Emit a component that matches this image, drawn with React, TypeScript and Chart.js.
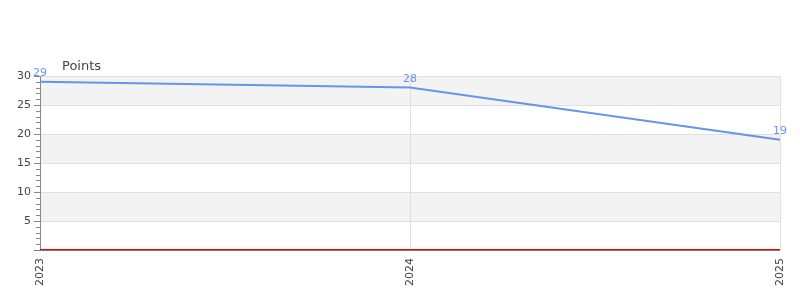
import React, { useEffect, useRef } from "react";
import { Chart, registerables } from "chart.js";

Chart.register(...registerables);

const categories = ["2023", "2024", "2025"];
const pointsValues = [29, 28, 19];
const zeroLine = [0, 0, 0];
const yMin = 0;
const yMax = 30;
const yMajorStep = 5;
const yMinorStep = 1;
const seriesTitle = "Points";

const FONT = "'DejaVu Sans', sans-serif";
const LINE_COLOR = "#6495ED";

const bandsPlugin = {
  id: "bands",
  beforeDraw(chart: any) {
    const { ctx, chartArea } = chart;
    const y = chart.scales.y;
    ctx.save();
    ctx.fillStyle = "#f3f3f3";
    for (let v = yMax; v > yMin; v -= yMajorStep * 2) {
      const top = y.getPixelForValue(v);
      const bot = y.getPixelForValue(v - yMajorStep);
      ctx.fillRect(chartArea.left, top, chartArea.right - chartArea.left, bot - top);
    }
    ctx.restore();
  },
};

const axisDecorPlugin = {
  id: "axisDecor",
  afterDatasetsDraw(chart: any) {
    const { ctx, chartArea } = chart;
    const y = chart.scales.y;
    ctx.save();
    ctx.strokeStyle = "#888";
    ctx.lineWidth = 1;
    for (let v = yMin + yMinorStep; v <= yMax; v += yMinorStep) {
      const py = Math.round(y.getPixelForValue(v)) + 0.5;
      const len = v % yMajorStep === 0 ? 6 : 4;
      ctx.beginPath();
      ctx.moveTo(chartArea.left - len, py);
      ctx.lineTo(chartArea.left, py);
      ctx.stroke();
    }
    const by = Math.round(chartArea.bottom) + 0.5;
    ctx.strokeStyle = "#777";
    ctx.beginPath();
    ctx.moveTo(chartArea.left - 6, by);
    ctx.lineTo(chartArea.right, by);
    ctx.stroke();
    ctx.restore();
  },
};

const labelsPlugin = {
  id: "valueLabels",
  afterDatasetsDraw(chart: any) {
    const { ctx, chartArea } = chart;
    const meta = chart.getDatasetMeta(0);
    ctx.save();
    ctx.font = `11px ${FONT}`;
    ctx.fillStyle = LINE_COLOR;
    ctx.textAlign = "center";
    ctx.textBaseline = "bottom";
    meta.data.forEach((pt: any, i: number) => {
      ctx.fillText(String(pointsValues[i]), pt.x, pt.y - 3);
    });
    ctx.font = `13px ${FONT}`;
    ctx.fillStyle = "#444";
    ctx.textAlign = "left";
    ctx.fillText(seriesTitle, chartArea.left + 22, chartArea.top - 3);
    ctx.restore();
  },
};

export default function App() {
  const ref = useRef<HTMLCanvasElement>(null);
  useEffect(() => {
    document.body.style.margin = "0";
    const chart = new Chart(ref.current as HTMLCanvasElement, {
      type: "line",
      data: {
        labels: categories,
        datasets: [
          {
            label: seriesTitle,
            data: pointsValues,
            borderColor: LINE_COLOR,
            borderWidth: 2,
            pointRadius: 0,
            tension: 0,
            fill: false,
          },
          {
            label: "zero",
            data: zeroLine,
            borderColor: "#ff0000",
            borderWidth: 2,
            pointRadius: 0,
            fill: false,
            clip: false,
          },
        ],
      },
      options: {
        responsive: false,
        animation: false,
        layout: { padding: { top: 76, right: 20, left: 0, bottom: 0 } },
        plugins: {
          legend: { display: false },
          title: { display: false },
          tooltip: { enabled: false },
        },
        scales: {
          x: {
            type: "category",
            offset: false,
            afterFit(scale: any) {
              scale.height = 50;
              scale.paddingLeft = 0;
              scale.paddingRight = 0;
            },
            grid: {
              display: true,
              drawTicks: false,
              color: (c: any) => (c.index === 0 ? "rgba(0,0,0,0)" : "#e0e0e0"),
            },
            border: { display: false },
            ticks: {
              minRotation: 90,
              maxRotation: 90,
              padding: 8,
              color: "#444",
              font: { family: FONT, size: 11 },
            },
          },
          y: {
            min: yMin,
            max: yMax,
            afterFit(scale: any) {
              scale.width = 40;
              scale.paddingTop = 0;
              scale.paddingBottom = 0;
            },
            grid: { color: "#e0e0e0", drawTicks: false },
            border: { display: true, color: "#888", width: 1 },
            ticks: {
              stepSize: yMajorStep,
              padding: 9,
              color: "#444",
              font: { family: FONT, size: 11 },
              callback: (v: any) => (v === 0 ? "" : String(v)),
            },
          },
        },
      },
      plugins: [bandsPlugin, axisDecorPlugin, labelsPlugin],
    });
    return () => chart.destroy();
  }, []);
  return <canvas ref={ref} width={800} height={300} />;
}
